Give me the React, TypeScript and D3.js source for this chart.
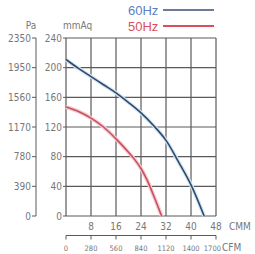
import React from "react";
import * as d3 from "d3";

// fan curve data
const cmm60 = [0, 4, 8, 12, 16, 20, 24, 28, 32, 36, 40, 44.2];
const mmAq60 = [211, 199, 188, 177, 166, 153, 139, 122, 102, 73, 42, 0];
const cmm50 = [0, 4, 8, 12, 16, 20, 22, 24, 26, 28, 30.6];
const mmAq50 = [147, 141, 132, 120, 104, 86, 76, 64, 48, 28, 0];

const mmAqTicks = [0, 40, 80, 120, 160, 200, 240];
const paLabels = ["0", "390", "780", "1170", "1560", "1950", "2350"];
const cmmTicks = [0, 8, 16, 24, 32, 40, 48];
const cfmLabels = ["0", "280", "560", "840", "1120", "1400", "1700"];

const W = 255;
const H = 254;
const font = "'Liberation Sans Narrow', 'DejaVu Sans Condensed', 'Liberation Sans', sans-serif";
const textColor = "#777";
const gridColor = "#5a5a5a";

export default function App() {
  const x = d3.scaleLinear().domain([0, 48]).range([66, 216]);
  const y = d3.scaleLinear().domain([0, 240]).range([216, 38]);

  const line = d3
    .line<[number, number]>()
    .x((d) => x(d[0]))
    .y((d) => y(d[1]))
    .curve(d3.curveCatmullRom.alpha(0.5));

  const path60 = line(cmm60.map((c, i) => [c, mmAq60[i]]) as [number, number][]) || "";
  const path50 = line(cmm50.map((c, i) => [c, mmAq50[i]]) as [number, number][]) || "";

  const paX = 36;
  const cfmY = 235.5;

  return (
    <svg
      width={W}
      height={H}
      style={{ position: "absolute", left: 0, top: 0, background: "#fff" }}
      fontFamily={font}
    >
      {/* grid */}
      {cmmTicks.map((t) => (
        <line key={"v" + t} x1={x(t)} x2={x(t)} y1={y(0)} y2={y(240)} stroke={gridColor} strokeWidth={1.2} />
      ))}
      {mmAqTicks.map((t) => (
        <line key={"h" + t} x1={x(0)} x2={x(48)} y1={y(t)} y2={y(t)} stroke={gridColor} strokeWidth={1.2} />
      ))}

      {/* mmAq axis */}
      {mmAqTicks.map((t) => (
        <g key={"m" + t}>
          <line x1={x(0) - 3} x2={x(0)} y1={y(t)} y2={y(t)} stroke={gridColor} strokeWidth={1} />
          <text x={62} y={y(t) + 3.5} textAnchor="end" fontSize={10} fill={textColor}>
            {t}
          </text>
        </g>
      ))}
      <text x={63} y={29} fontSize={10} fill={textColor}>mmAq</text>

      {/* Pa axis */}
      <line x1={paX} x2={paX} y1={y(240)} y2={y(0)} stroke={gridColor} strokeWidth={1} />
      {paLabels.map((l, i) => (
        <g key={"p" + l}>
          <line x1={paX - 4} x2={paX} y1={y(mmAqTicks[i])} y2={y(mmAqTicks[i])} stroke={gridColor} strokeWidth={1} />
          <text x={31} y={y(mmAqTicks[i]) + 3.5} textAnchor="end" fontSize={10} fill={textColor}>
            {l}
          </text>
        </g>
      ))}
      <text x={31} y={29} textAnchor="middle" fontSize={10} fill={textColor}>Pa</text>

      {/* CMM labels */}
      {cmmTicks.slice(1).map((t) => (
        <text key={"c" + t} x={x(t)} y={230} textAnchor="middle" fontSize={10} fill={textColor}>
          {t}
        </text>
      ))}
      <text x={229} y={230} fontSize={10} fill={textColor}>CMM</text>

      {/* CFM axis */}
      <line x1={x(0)} x2={x(48)} y1={cfmY} y2={cfmY} stroke={gridColor} strokeWidth={1} />
      {cfmLabels.map((l, i) => {
        const last = i === cfmLabels.length - 1;
        return (
          <g key={"f" + l}>
            <line x1={x(cmmTicks[i])} x2={x(cmmTicks[i])} y1={cfmY} y2={cfmY + 4} stroke={gridColor} strokeWidth={1} />
            <text
              x={last ? 221 : x(cmmTicks[i])}
              y={251}
              textAnchor={last ? "end" : "middle"}
              fontSize={7.5}
              fill={textColor}
            >
              {l}
            </text>
          </g>
        );
      })}
      <text x={222} y={251} fontSize={10} fill={textColor}>CFM</text>

      {/* curves */}
      <path d={path60} fill="none" stroke="#d6e6f2" strokeWidth={4} />
      <path d={path60} fill="none" stroke="#2d4a6b" strokeWidth={1.6} />
      <path d={path50} fill="none" stroke="#f4ccd2" strokeWidth={4} />
      <path d={path50} fill="none" stroke="#c9505c" strokeWidth={1.6} />

      {/* legend */}
      <text x={128} y={15} fontSize={13} fill="#5b7fc4" fontFamily="'Liberation Sans', sans-serif">60Hz</text>
      <line x1={163} x2={214} y1={10} y2={10} stroke="#6c7a96" strokeWidth={2} />
      <text x={128} y={31} fontSize={13} fill="#d9505a" fontFamily="'Liberation Sans', sans-serif">50Hz</text>
      <line x1={163} x2={214} y1={26} y2={26} stroke="#d9505a" strokeWidth={2} />
    </svg>
  );
}
